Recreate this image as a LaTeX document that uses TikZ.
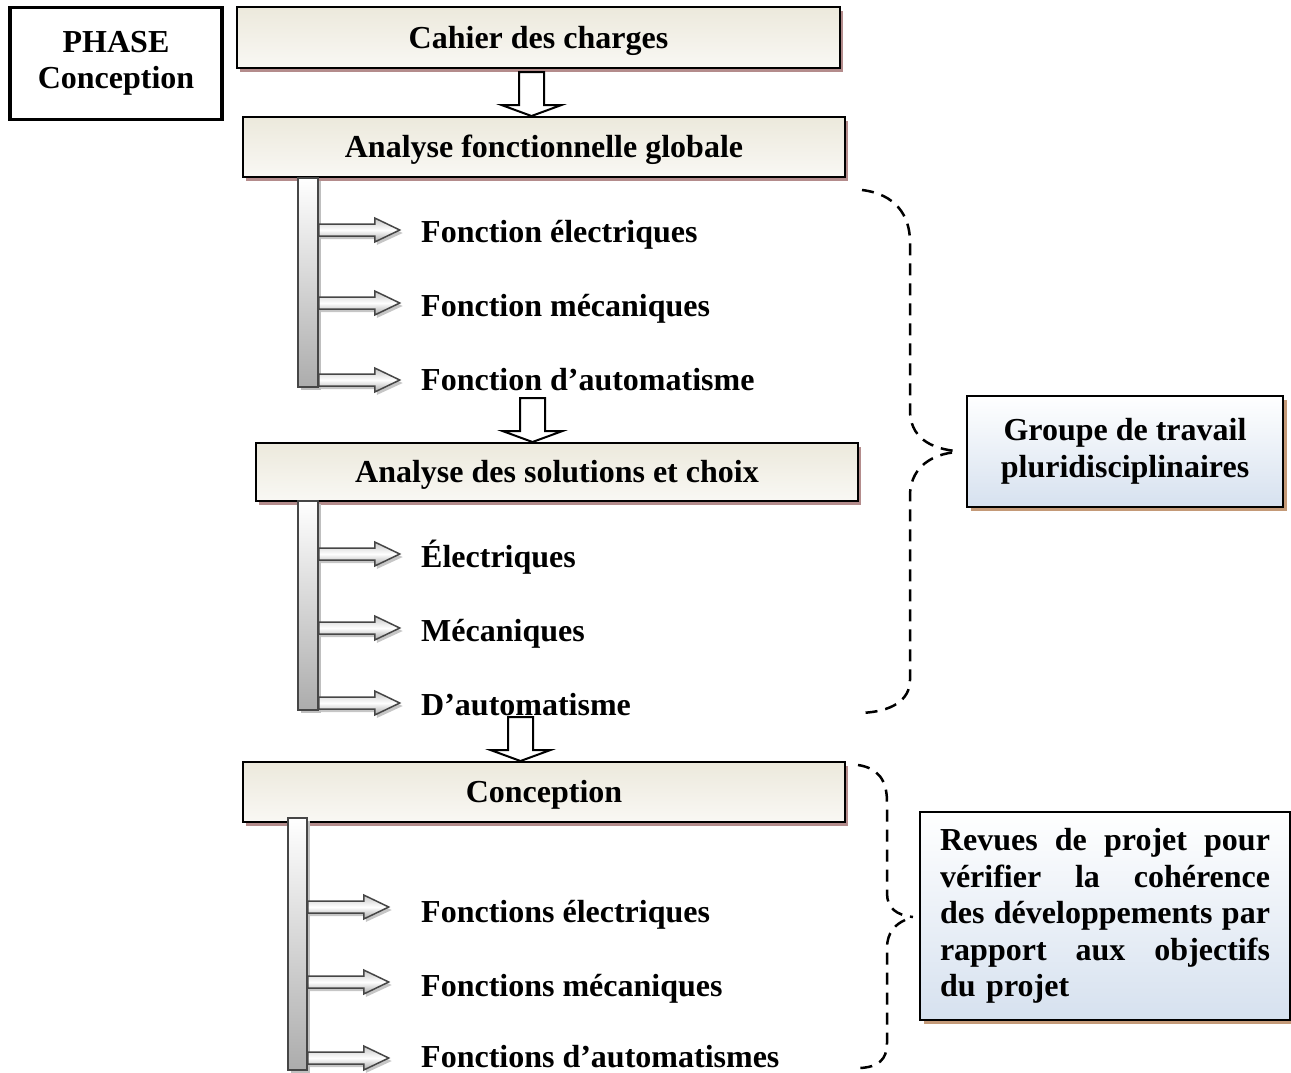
\documentclass[tikz,border=0pt]{standalone}
\usepackage{fontspec}
\setmainfont{Liberation Serif}
\usetikzlibrary{shadows,calc}
\definecolor{shrose}{HTML}{B48C8C}
\definecolor{shtan}{HTML}{C49A78}
\definecolor{beigetop}{HTML}{ECE9DC}
\definecolor{beigebot}{HTML}{F9F8F4}
\definecolor{bluebot}{HTML}{D6E1EF}
\tikzset{
  stagebox/.style={draw, line width=2pt, top color=beigetop, bottom color=beigebot,
    minimum height=60pt, minimum width=602pt, inner sep=0pt, text height=21pt, text depth=0pt,
    drop shadow={shadow xshift=3pt, shadow yshift=-4pt, fill=shrose, opacity=1}},
  bluebox/.style={draw, line width=2pt, top color=white, bottom color=bluebot, inner sep=0pt,
    drop shadow={shadow xshift=4pt, shadow yshift=-4pt, fill=shtan, opacity=1}},
  barnode/.style={draw=gray!55!black, line width=1.5pt, top color=white, bottom color=gray!65,
    inner sep=0pt, minimum width=20pt,
    drop shadow={shadow xshift=3pt, shadow yshift=-3pt, fill=gray!50, opacity=1}},
  itemtext/.style={anchor=base west, inner sep=0pt},
  bracepath/.style={line width=2.5pt, dash pattern=on 12pt off 8pt},
  pics/sidearrow/.style={code={
    \fill[gray!45] (2,-3) -- (58,-3) -- (58,-9) -- (84,3) -- (58,15) -- (58,9) -- (2,9) -- cycle;
    \draw[draw=gray!55!black, line width=1.5pt, top color=gray!45, bottom color=gray!70, middle color=white]
      (0,-6) -- (56,-6) -- (56,-12) -- (81,0) -- (56,12) -- (56,6) -- (0,6) -- cycle;
  }},
  pics/downarrow/.style={code={
    \draw[fill=white, line width=2pt, line join=miter]
      (0,0) -- (-30,-11) -- (-12.5,-11) -- (-12.5,-44) -- (12.5,-44) -- (12.5,-11) -- (30,-11) -- cycle;
  }}
}
\newcommand{\jline}[1]{\leavevmode\hbox to 330pt{#1}}
\begin{document}
\begin{tikzpicture}[x=1pt,y=-1pt,font=\fontsize{32}{36.5}\selectfont\bfseries]
\useasboundingbox (0,0) rectangle (1291,1072);

% phase box
\node[draw, line width=3.5pt, fill=white, minimum width=212pt, minimum height=112pt, align=center, inner sep=0pt]
  (phase) at (116,63.5) {PHASE\\Conception};

% stage boxes
\node[stagebox, minimum width=603pt, minimum height=61pt] (cahier) at (538.5,37.5) {Cahier des charges};
\node[stagebox] (afg) at (544,147) {Analyse fonctionnelle globale};
\node[stagebox, minimum height=58pt] (asc) at (557,472) {Analyse des solutions et choix};
\node[stagebox] (conc) at (544,792) {Conception};

% side groups
\node[bluebox, minimum width=316pt, minimum height=111pt, align=center] (groupe) at (1125,451.5)
  {Groupe de travail\\pluridisciplinaires};
\node[bluebox, minimum width=370pt, minimum height=208pt, text width=330pt, align=left] (revues) at (1105,916)
  {\jline{Revues\hfill de\hfill projet\hfill pour}\\
   \jline{vérifier\hfill la\hfill cohérence}\\
   \jline{des\hfill développements\hfill par}\\
   \jline{rapport\hfill aux\hfill objectifs}\\
   du projet};

% bars
\node[barnode, minimum height=209pt] (bar1) at (308,282.5) {};
\node[barnode, minimum height=209pt] (bar2) at (308,605.5) {};
\node[barnode, minimum width=19pt, minimum height=252pt] (bar3) at (297.5,944) {};

% item texts
\node[itemtext] (t1) at (421,242) {Fonction électriques};
\node[itemtext] (t2) at (421,316) {Fonction mécaniques};
\node[itemtext] (t3) at (421,390) {Fonction d’automatisme};
\node[itemtext] (t4) at (421,567) {Électriques};
\node[itemtext] (t5) at (421,641) {Mécaniques};
\node[itemtext] (t6) at (421,715) {D’automatisme};
\node[itemtext] (t7) at (421,922) {Fonctions électriques};
\node[itemtext] (t8) at (421,996) {Fonctions mécaniques};
\node[itemtext] (t9) at (421,1067) {Fonctions d’automatismes};

% side arrows
\pic at (bar1.east |- 0,230) {sidearrow};
\pic at (bar1.east |- 0,303) {sidearrow};
\pic at (bar1.east |- 0,380) {sidearrow};
\pic at (bar2.east |- 0,554) {sidearrow};
\pic at (bar2.east |- 0,628) {sidearrow};
\pic at (bar2.east |- 0,703) {sidearrow};
\pic at (bar3.east |- 0,907) {sidearrow};
\pic at (bar3.east |- 0,982) {sidearrow};
\pic at (bar3.east |- 0,1058) {sidearrow};

% fat down arrows
\coordinate (a1) at (531.5,0);
\coordinate (a2) at (532.5,0);
\coordinate (a3) at (520.5,0);
\pic at (a1 |- afg.north) {downarrow};
\pic at (a2 |- asc.north) {downarrow};
\pic at (a3 |- conc.north) {downarrow};

% braces
\coordinate (b1s) at (862,190);
\coordinate (b1e) at (860,713);
\draw[bracepath] (b1s) .. controls (895,194) and (910,215) .. (910,242) -- (910,410)
  .. controls (910,436) and (928,449) .. ($(groupe.west)+(-6,0)$);
\draw[bracepath] ($(groupe.west)+(-14,1)$) .. controls (928,456) and (910,470) .. (910,496) -- (910,680)
  .. controls (910,700) and (892,712) .. (b1e);

\coordinate (b2s) at (858,765);
\coordinate (b2e) at (860,1068);
\draw[bracepath] (b2s) .. controls (878,768) and (887,780) .. (887,802) -- (887,893)
  .. controls (887,908) and (896,915) .. ($(revues.west)+(-6,1)$);
\draw[bracepath] ($(revues.west)+(-14,4)$) .. controls (896,924) and (887,932) .. (887,948) -- (887,1043)
  .. controls (887,1060) and (878,1067) .. (b2e);
\end{tikzpicture}
\end{document}
